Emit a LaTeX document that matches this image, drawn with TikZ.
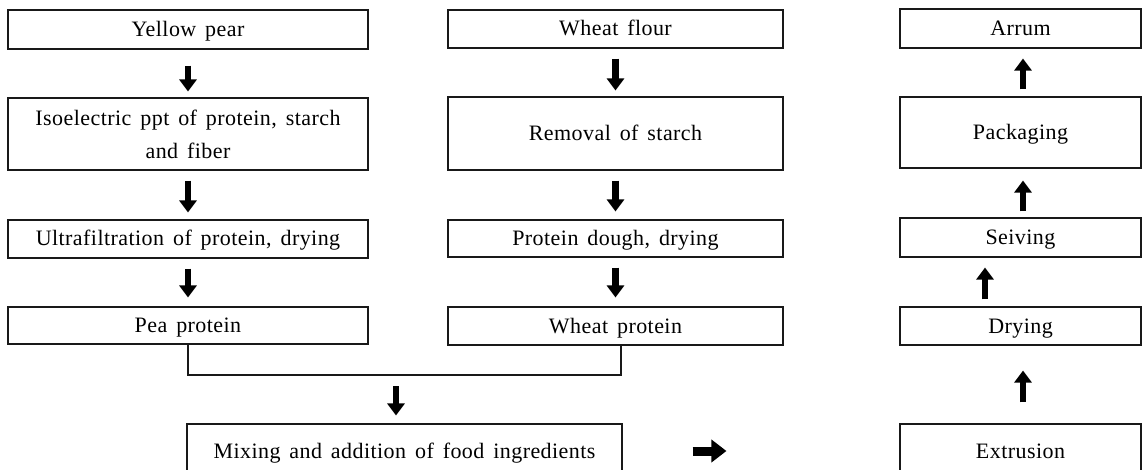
\documentclass[tikz,border=0pt]{standalone}
\usepackage{fontspec}
\setmainfont{Liberation Serif}[LetterSpace=2,WordSpace=1.5]
\usepackage{tikz}
\usetikzlibrary{arrows.meta, positioning, calc}

\tikzset{
  box/.style={draw=black!90, line width=1.1pt, inner sep=0pt, align=center,
    font=\fontsize{22}{33}\selectfont},
  stage/.style={box, text height=15pt, text depth=1pt},
  flow/.style={line width=6.5pt, -{Triangle[width=17pt,length=12pt]},
    shorten <=10pt, shorten >=8pt},
  joint/.style={draw=black!90, line width=1.1pt}
}

\begin{document}
\begin{tikzpicture}[x=1pt, y=-1pt]
    \useasboundingbox (0,0) rectangle (1142,470);

    % Pea column
    \node[stage, minimum width=360pt, minimum height=39pt] (yp) at (188,29.5) {Yellow pear};
    \node[box, minimum width=360pt, minimum height=72pt] (iso) at (188,134) {Isoelectric ppt of protein, starch\\and fiber};
    \node[stage, minimum width=360pt, minimum height=38pt] (uf) at (188,239) {Ultrafiltration of protein, drying};
    \node[stage, minimum width=360pt, minimum height=37pt] (pea) at (188,325.5) {Pea protein};

    % Wheat column
    \node[stage, minimum width=335pt, minimum height=38pt] (wf) at (615.5,29) {Wheat flour};
    \node[stage, minimum width=335pt, minimum height=73pt] (rem) at (615.5,133.5) {Removal of starch};
    \node[stage, minimum width=335pt, minimum height=37pt] (dough) at (615.5,238.5) {Protein dough, drying};
    \node[stage, minimum width=335pt, minimum height=38pt] (wpro) at (615.5,326) {Wheat protein};

    % Mixing
    \node[stage, minimum width=435pt, minimum height=54pt] (mix) at (404.5,451) {Mixing and addition of food ingredients};

    % Arrum column (bottom to top)
    \node[stage, minimum width=241pt, minimum height=54pt] (ext) at (1020.5,451) {Extrusion};
    \node[stage, minimum width=241pt, minimum height=38pt] (dry) at (1020.5,326) {Drying};
    \node[stage, minimum width=241pt, minimum height=39pt] (seiv) at (1020.5,237.5) {Seiving};
    \node[stage, minimum width=241pt, minimum height=71pt] (pack) at (1020.5,132.5) {Packaging};
    \node[stage, minimum width=241pt, minimum height=39pt] (arrum) at (1020.5,28.5) {Arrum};

    % Down arrows
    \draw[flow, shorten <=16pt, shorten >=6pt] (yp) -- (iso);
    \draw[flow, shorten >=7pt] (iso) -- (uf);
    \draw[flow, shorten >=9pt] (uf) -- (pea);
    \draw[flow, shorten >=6pt] (wf) -- (rem);
    \draw[flow] (rem) -- (dough);
    \draw[flow, shorten >=9pt] (dough) -- (wpro);

    % Joining the two proteins
    \coordinate (jn) at (396,375);
    \draw[joint] (pea.south) |- (jn) -| ([xshift=5.5pt]wpro.south);
    \draw[flow, shorten <=11pt, shorten >=8pt] (jn) -- (jn |- mix.north);

    % To extrusion
    \draw[line width=9pt, -{Triangle[width=22pt,length=15pt]}, shorten <=70pt, shorten >=173pt] (mix) -- (ext);

    % Up arrows
    \draw[flow, shorten <=21pt, shorten >=25pt] ([xshift=2.5pt]ext.north) -- ([xshift=2.5pt]dry.south);
    \draw[flow, shorten <=7pt, shorten >=10pt] ([xshift=-35.5pt]dry.north) -- ([xshift=-35.5pt]seiv.south);
    \draw[flow, shorten <=6pt, shorten >=12pt] ([xshift=2.5pt]seiv.north) -- ([xshift=2.5pt]pack.south);
    \draw[flow, shorten <=7pt, shorten >=10pt] ([xshift=2.5pt]pack.north) -- ([xshift=2.5pt]arrum.south);
\end{tikzpicture}
\end{document}
